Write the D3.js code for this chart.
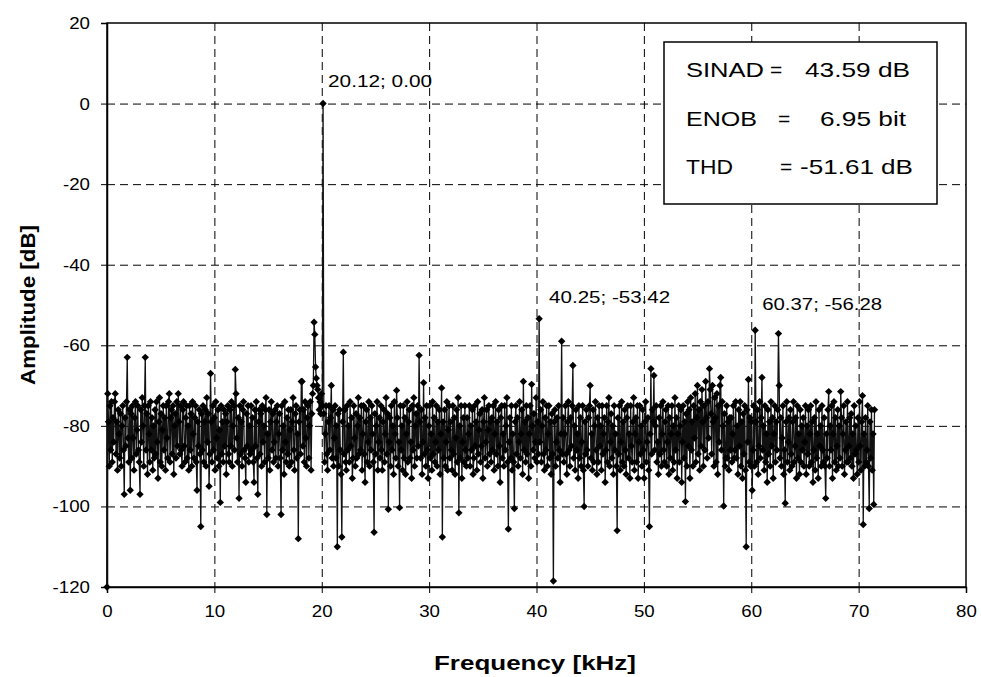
<!DOCTYPE html>
<html><head><meta charset="utf-8">
<script src="https://cdn.jsdelivr.net/npm/d3@7"></script>
<style>
body{margin:0;background:#fff;}
text{font-family:"Liberation Sans",Arial,Helvetica,sans-serif;fill:#000;}
</style>
</head><body>
<svg id="chart" width="981" height="677"></svg>
<script>
// ---------------- data ----------------
const xTickValues = [0,10,20,30,40,50,60,70,80];
const yTickValues = [-120,-100,-80,-60,-40,-20,0,20];
const binWidthKHz = 0.06987;           // FFT bin spacing (kHz)
const amplitudeDb = [
// 0-31
-120,-72,-79,-90,-75,-86,-74,-89,-78,-84,-74,-72,-87,-79,-91,-76,-82,-88,-77,-90,-80,-75,-86,-97,-78,-85,-74,-63,-83,-89,-76,-96,
// 32-63
-77,-88,-75,-83,-91,-78,-74,-87,-81,-75,-86,-89,-97,-76,-84,-73,-80,-90,-75,-63,-86,-77,-92,-75,-82,-89,-74,-86,-78,-91,-80,-88,
// 64-95
-76,-87,-74,-84,-93,-79,-73,-89,-77,-90,-81,-75,-86,-78,-91,-75,-83,-88,-74,-72,-89,-78,-76,-87,-75,-92,-80,-77,-88,-74,-85,-72,
// 96-127
-79,-87,-75,-86,-90,-76,-74,-85,-89,-78,-75,-88,-80,-91,-75,-86,-77,-90,-74,-82,-88,-78,-75,-89,-96,-79,-85,-76,-87,-105,-77,-86,
// 128-159
-75,-89,-79,-76,-90,-73,-84,-77,-95,-87,-67,-79,-89,-75,-86,-78,-91,-74,-83,-88,-76,-90,-81,-99,-75,-87,-79,-89,-76,-85,-77,-92,
// 160-191
-79,-75,-87,-89,-76,-85,-74,-90,-80,-75,-86,-66,-72,-83,-89,-78,-98,-75,-87,-79,-90,-76,-74,-86,-88,-94,-77,-85,-75,-89,-80,-87,
// 192-223
-75,-86,-78,-89,-94,-76,-85,-74,-88,-97,-79,-76,-87,-77,-90,-75,-84,-80,-89,-76,-73,-102,-82,-88,-76,-91,-79,-74,-86,-77,-89,-84,
// 224-255
-76,-88,-79,-75,-90,-82,-77,-88,-102,-75,-86,-80,-92,-74,-84,-89,-78,-87,-76,-90,-81,-76,-89,-79,-73,-86,-91,-77,-75,-88,-82,-108,
// 256-287
-79,-76,-87,-69,-69,-85,-76,-89,-74,-83,-90,-78,-75,-88,-80,-74,-91,-77,-72,-70,-54.3,-57.3,-65.4,-68.2,-70,-71,-73,-76,-74,-77,-72,-75,
// 288-319
0,-77,-89,-82,-75,-87,-91,-79,-75,-86,-78,-70,-88,-76,-90,-83,-75,-88,-80,-110,-77,-90,-76,-86,-92,-107.6,-79,-61.7,-87,-76,-89,-91,
// 320-351
-75,-86,-80,-89,-74,-85,-78,-93,-88,-75,-83,-90,-77,-88,-80,-73,-87,-78,-86,-75,-91,-82,-75,-87,-94,-79,-76,-89,-84,-74,-90,-78,
// 352-383
-86,-75,-82,-89,-106.4,-77,-87,-80,-74,-91,-84,-78,-88,-75,-86,-91,-79,-76,-89,-82,-73,-87,-77,-100.7,-84,-78,-90,-75,-86,-80,-92,-74,
// 384-415
-82,-88,-71.2,-78,-90,-84,-100.3,-75,-86,-80,-91,-75,-88,-78,-92,-82,-74,-89,-79,-76,-88,-84,-93,-75,-86,-73,-90,-80,-77,-88,-75,-85,
// 416-447
-62.5,-79,-88,-76,-92,-84,-69.3,-87,-78,-90,-75,-86,-93,-80,-75,-88,-82,-91,-74,-87,-78,-89,-84,-75,-90,-79,-86,-76,-92,-82,-70.6,-107.6,
// 448-479
-79,-88,-76,-90,-84,-74,-91,-81,-75,-88,-79,-86,-91,-75,-87,-78,-92,-83,-76,-89,-73,-101.6,-80,-88,-75,-93,-84,-78,-89,-75,-86,-90,
// 480-511
-78,-88,-82,-75,-90,-80,-86,-76,-92,-88,-75,-85,-79,-91,-74,-87,-81,-77,-89,-85,-76,-93,-79,-73,-88,-84,-76,-90,-81,-75,-87,-79,
// 512-543
-89,-78,-86,-75,-91,-82,-74,-87,-79,-90,-76,-85,-94,-78,-75,-88,-82,-90,-75,-86,-80,-73,-89,-105.6,-84,-78,-88,-75,-91,-82,-89,-100.5,
// 544-575
-79,-75,-87,-78,-90,-84,-74,-88,-82,-76,-92,-69,-86,-79,-89,-75,-87,-78,-93,-82,-75,-90,-69.7,-80,-86,-77,-88,-84,-73,-89,-79,-87,
// 576-607
-53.42,-84,-76,-89,-80,-74,-87,-91,-78,-86,-75,-90,-82,-75,-88,-79,-92,-77,-87,-118.5,-79,-76,-90,-84,-78,-88,-75,-86,-94,-82,-59,-87,
// 608-639
-78,-89,-82,-75,-87,-92,-79,-74,-86,-90,-78,-85,-75,-65,-88,-80,-91,-76,-86,-82,-93,-75,-88,-78,-90,-84,-75,-91,-100,-79,-87,-76,
// 640-671
-86,-90,-78,-75,-70,-88,-82,-91,-76,-89,-80,-74,-86,-92,-78,-89,-75,-85,-80,-91,-75,-87,-82,-78,-94,-86,-75,-89,-79,-73,-90,-84,
// 672-703
-77,-88,-80,-92,-75,-86,-82,-90,-106,-78,-87,-75,-91,-84,-74,-89,-79,-90,-76,-86,-92,-78,-75,-88,-82,-93,-75,-85,-89,-79,-73,-91,
// 704-735
-82,-78,-89,-75,-93,-84,-75,-87,-80,-90,-76,-86,-93,-79,-74,-89,-84,-78,-91,-105,-82,-65.8,-87,-76,-79,-67.5,-86,-80,-75,-89,-84,-92,
// 736-767
-78,-87,-75,-90,-82,-74,-86,-89,-79,-76,-90,-84,-75,-92,-78,-88,-82,-75,-91,-80,-89,-73,-86,-78,-93,-82,-75,-89,-80,-76,-94,-84,
// 768-799
-75,-88,-79,-98.8,-77,-90,-74,-85,-76,-93,-73,-86,-79,-90,-75,-83,-72,-89,-78,-70,-87,-76,-91,-74,-85,-71,-79,-90,-75,-86,-69,-78,
// 800-831
-88,-74,-83,-65.8,-71,-77,-87,-70,-79,-90,-73,-78,-89,-72,-92,-75,-84,-70,-68,-86,-74,-80,-99.9,-77,-90,-88,-75,-88,-79,-91,-78,-86,
// 832-863
-78,-89,-82,-75,-88,-86,-74,-88,-80,-92,-76,-85,-74,-90,-79,-93,-77,-87,-75,-91,-110,-76,-84,-68.5,-89,-78,-90,-79,-96,-86,-75,-90,
// 864-895
-56.28,-79,-89,-76,-92,-85,-74,-88,-78,-68,-86,-80,-91,-75,-89,-82,-94,-76,-87,-79,-90,-74,-85,-78,-93,-82,-75,-89,-79,-86,-76,-57.1,
// 896-927
-70,-88,-78,-90,-83,-75,-92,-86,-99.2,-79,-74,-89,-84,-78,-91,-76,-87,-90,-79,-74,-89,-85,-78,-93,-75,-88,-82,-92,-76,-89,-80,-86,
// 928-959
-78,-90,-84,-75,-92,-80,-87,-76,-90,-82,-75,-89,-79,-94,-86,-78,-91,-74,-88,-82,-93,-76,-85,-80,-90,-75,-86,-89,-78,-90,-98,-82,
// 960-991
-88,-76,-71.5,-90,-80,-86,-75,-93,-82,-74,-89,-78,-91,-85,-76,-90,-80,-88,-71.5,-78,-90,-82,-75,-92,-86,-79,-89,-74,-89,-85,-78,-88,
// 992-1023
-77,-90,-82,-93,-75,-87,-80,-86,-92,-78,-89,-74,-85,-91,-79,-72.5,-104.5,-82,-90,-78,-89,-86,-75,-90,-100.5,-79,-88,-76,-91,-82,-99.5,-76
];
const peakBins   = [288, 576, 864];
const peakLabels = ["20.12; 0.00", "40.25; -53.42", "60.37; -56.28"];
const statNames  = ["SINAD", "ENOB", "THD"];
const statValues = ["43.59 dB", "6.95 bit", "-51.61 dB"];
const xTitle = "Frequency [kHz]";
const yTitle = "Amplitude [dB]";

// ---------------- chart ----------------
const svg = d3.select("#chart");
const M = {left:107, right:966, top:23, bottom:587};
const x = d3.scaleLinear().domain([0,80]).range([M.left, M.right]);
const y = d3.scaleLinear().domain([-120,20]).range([M.bottom, M.top]);

const points = amplitudeDb.map((v,i)=>({f:i*binWidthKHz, v}));

// grid
const grid = svg.append("g").attr("stroke","#000").attr("stroke-width",1).attr("stroke-dasharray","8,5");
grid.selectAll(".gx").data(xTickValues.filter(d=>d>0 && d<80)).join("line")
  .attr("x1",d=>x(d)+0.5).attr("x2",d=>x(d)+0.5).attr("y1",M.top).attr("y2",M.bottom);
grid.selectAll(".gy").data(yTickValues.filter(d=>d>-120 && d<20)).join("line")
  .attr("y1",d=>y(d)+0.5).attr("y2",d=>y(d)+0.5).attr("x1",M.left).attr("x2",M.right);

// frame
svg.append("rect").attr("x",M.left).attr("y",M.top).attr("width",M.right-M.left).attr("height",M.bottom-M.top)
  .attr("fill","none").attr("stroke","#000").attr("stroke-width",1.5);

// axes
const fmt = d => String(d);
const xAxis = d3.axisBottom(x).tickValues(xTickValues).tickSize(6).tickPadding(10).tickFormat(fmt);
const yAxis = d3.axisLeft(y).tickValues(yTickValues).tickSize(6).tickPadding(10).tickFormat(fmt);
const gx = svg.append("g").attr("transform",`translate(0,${M.bottom})`).call(xAxis);
const gy = svg.append("g").attr("transform",`translate(${M.left},0)`).call(yAxis);
[gx,gy].forEach(g=>{
  g.select(".domain").attr("stroke","#000").attr("stroke-width",1.5);
  g.selectAll(".tick line").attr("stroke","#000").attr("stroke-width",1);
  g.selectAll(".tick text").attr("font-size",17).attr("font-family","'Liberation Sans',Arial,sans-serif");
});
gx.selectAll(".tick text").attr("dy","0.85em").attr("transform","scale(1.1,1)");
gy.selectAll(".tick text").attr("x",0).attr("transform","translate(-17,0) scale(1.1,1)");

// data line + markers
const line = d3.line().x(d=>x(d.f)).y(d=>y(d.v));
svg.append("path").datum(points).attr("d",line).attr("fill","none").attr("stroke","#111").attr("stroke-width",1.3);
const diamond = "M0,-3.7L3.7,0L0,3.7L-3.7,0Z";
svg.append("g").selectAll("path").data(points).join("path")
  .attr("d",diamond).attr("transform",d=>`translate(${x(d.f)},${y(d.v)})`).attr("fill","#000");

// peak labels
const labelOffsets = [[5,-17],[10,-16],[7,-20]];
const labelLen = [104,121,120];
peakBins.forEach((b,i)=>{
  const p = points[b];
  svg.append("text").attr("x",x(p.f)+labelOffsets[i][0]).attr("y",y(p.v)+labelOffsets[i][1])
    .attr("font-size",17).attr("textLength",labelLen[i]).attr("lengthAdjust","spacingAndGlyphs").text(peakLabels[i]);
});

// stats box
svg.append("rect").attr("x",664).attr("y",42).attr("width",273).attr("height",162)
  .attr("fill","#fff").attr("stroke","#000").attr("stroke-width",1.5);
const eqX = [770,778,780];
const valX = [805,820,800];
const valLen = [105,86,113];
const nameLen = [78,71,47];
statNames.forEach((n,i)=>{
  const by = 77 + i*48.5;
  svg.append("text").attr("x",686).attr("y",by).attr("font-size",21)
     .attr("textLength",nameLen[i]).attr("lengthAdjust","spacingAndGlyphs").text(n);
  svg.append("text").attr("x",eqX[i]).attr("y",by).attr("font-size",21).text("=");
  svg.append("text").attr("x",valX[i]).attr("y",by).attr("font-size",21)
     .attr("textLength",valLen[i]).attr("lengthAdjust","spacingAndGlyphs").text(statValues[i]);
});

// axis titles
svg.append("text").attr("x",535).attr("y",670).attr("text-anchor","middle")
  .attr("font-size",21).attr("font-weight","bold")
  .attr("textLength",202).attr("lengthAdjust","spacingAndGlyphs").text(xTitle);
svg.append("text").attr("transform",`translate(35,${(M.top+M.bottom)/2}) rotate(-90)`).attr("text-anchor","middle")
  .attr("font-size",21).attr("font-weight","bold")
  .attr("textLength",160).attr("lengthAdjust","spacingAndGlyphs").text(yTitle);
</script>
</body></html>
